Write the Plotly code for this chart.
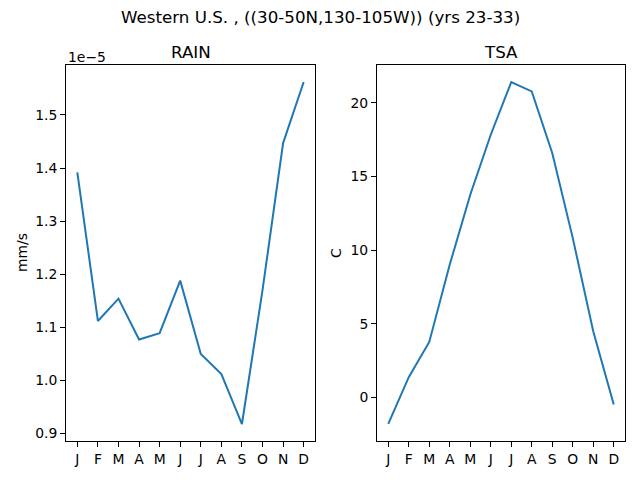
import plotly.graph_objects as go
from plotly.subplots import make_subplots

# monthly climatology, Western U.S.
months = ["J", "F", "M", "A", "M", "J", "J", "A", "S", "O", "N", "D"]
rain = [1.392e-5, 1.112e-5, 1.154e-5, 1.077e-5, 1.089e-5, 1.188e-5,
        1.050e-5, 1.012e-5, 0.918e-5, 1.170e-5, 1.447e-5, 1.562e-5]
tsa = [-1.79, 1.38, 3.77, 9.02, 13.76, 17.83,
       21.40, 20.77, 16.59, 10.83, 4.50, -0.47]
rain_ticks = [0.9, 1.0, 1.1, 1.2, 1.3, 1.4, 1.5]
tsa_ticks = [0, 5, 10, 15, 20]

# page body has an 8px margin, so the figure is drawn 8px smaller
OFF = 8
W, H = 640 - OFF, 480 - OFF
font = "DejaVu Sans"
blue = "#1f77b4"
idx = list(range(len(months)))


def px(x):
    return (x - OFF) / W


def py(y):
    return 1 - (y - OFF) / H


fig = make_subplots(rows=1, cols=2)

fig.add_trace(go.Scatter(x=idx, y=rain, mode="lines",
                         line=dict(color=blue, width=2)), row=1, col=1)
fig.add_trace(go.Scatter(x=idx, y=tsa, mode="lines",
                         line=dict(color=blue, width=2)), row=1, col=2)

axis_style = dict(showline=True, mirror=True, linecolor="black", linewidth=1,
                  ticks="outside", ticklen=5, tickcolor="black",
                  showgrid=False, zeroline=False,
                  tickfont=dict(family=font, size=13.9, color="black"))

fig.update_xaxes(axis_style, tickmode="array", tickvals=idx, ticktext=months,
                 range=[-0.55, 11.55])
fig.update_xaxes(domain=[px(66), px(315)], row=1, col=1)
fig.update_xaxes(domain=[px(377), px(625)], row=1, col=2)

fig.update_yaxes(axis_style, domain=[py(441), py(65)])
fig.update_yaxes(tickmode="array", tickvals=[v * 1e-5 for v in rain_ticks],
                 ticktext=[f"{v:.1f}" for v in rain_ticks],
                 range=[0.886e-5, 1.594e-5], row=1, col=1)
fig.update_yaxes(tickmode="array", tickvals=tsa_ticks,
                 ticktext=[str(v) for v in tsa_ticks],
                 range=[-2.95, 22.56], row=1, col=2)

txt = dict(family=font, size=16.7, color="black")
small = dict(family=font, size=13.9, color="black")
ann = [
    dict(text="Western U.S. , ((30-50N,130-105W)) (yrs 23-33)",
         x=px(320), y=py(17), xanchor="center", yanchor="middle", font=txt),
    dict(text="RAIN", x=px((66 + 315) / 2), y=py(52),
         xanchor="center", yanchor="middle", font=txt),
    dict(text="TSA", x=px((377 + 625) / 2), y=py(52),
         xanchor="center", yanchor="middle", font=txt),
    dict(text="1e\u22125", x=px(66), y=py(57), xanchor="left",
         yanchor="middle", font=small),
    dict(text="mm/s", x=px(22), y=py(253), textangle=-90,
         xanchor="center", yanchor="middle", font=small),
    dict(text="C", x=px(336), y=py(253), textangle=-90,
         xanchor="center", yanchor="middle", font=small),
]
for a in ann:
    a.update(xref="paper", yref="paper", showarrow=False)

fig.update_layout(width=W, height=H, margin=dict(l=0, r=0, t=0, b=0),
                  paper_bgcolor="white", plot_bgcolor="white",
                  showlegend=False, annotations=ann,
                  font=dict(family=font))

fig.write_html("out.html")
